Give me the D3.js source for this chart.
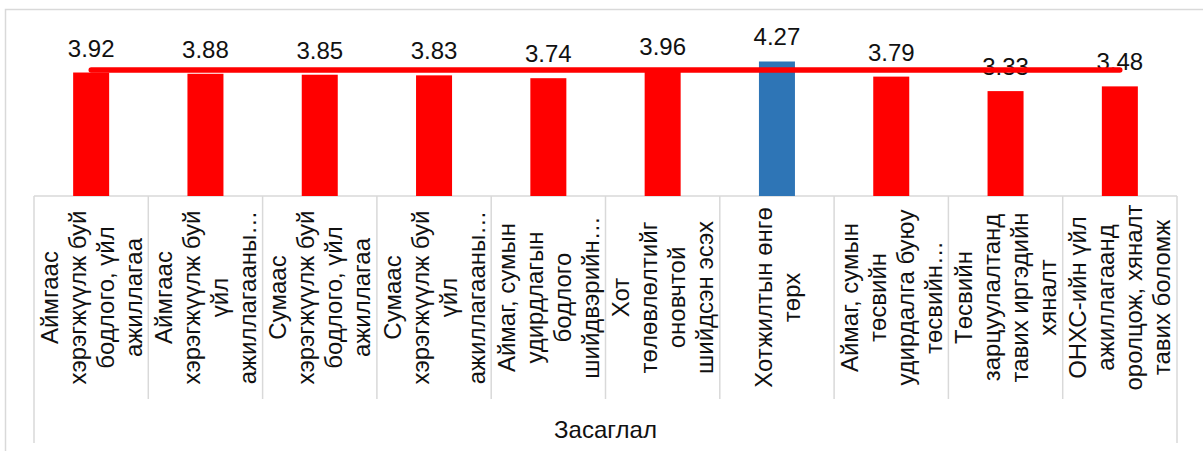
<!DOCTYPE html>
<html>
<head>
<meta charset="utf-8">
<script src="https://cdn.jsdelivr.net/npm/d3@7"></script>
<style>
  html, body { margin: 0; padding: 0; background: #fff; }
  svg { display: block; font-family: "Liberation Sans", Arial, sans-serif; }
</style>
</head>
<body>
<svg id="chart" width="1203" height="451"></svg>
<script>
// Category tick labels, one array of wrapped lines per category
const tickLabels = [
  ["Аймгаас", "хэрэгжүүлж буй", "бодлого, үйл", "ажиллагаа"],
  ["Аймгаас", "хэрэгжүүлж буй", "үйл", "ажиллагааны…"],
  ["Сумаас", "хэрэгжүүлж буй", "бодлого, үйл", "ажиллагаа"],
  ["Сумаас", "хэрэгжүүлж буй", "үйл", "ажиллагааны…"],
  ["Аймаг, сумын", "удирдлагын", "бодлого", "шийдвэрийн…"],
  ["Хот", "төлөвлөлтийг", "оновчтой", "шийдсэн эсэх"],
  ["Хотжилтын өнгө", "төрх"],
  ["Аймаг, сумын", "төсвийн", "удирдалга буюу", "төсвийн…"],
  ["Төсвийн", "зарцуулалтанд", "тавих иргэдийн", "хяналт"],
  ["ОНХС-ийн үйл", "ажиллагаанд", "оролцож, хяналт", "тавих боломж"]
];
const categories = tickLabels.map(d => d.join(" "));
const scores = [3.92, 3.88, 3.85, 3.83, 3.74, 3.96, 4.27, 3.79, 3.33, 3.48];
const referenceLine = [4, 4, 4, 4, 4, 4, 4, 4, 4, 4];
const groupLabel = "Засаглал";
const highlighted = "Хотжилтын өнгө төрх";

const svg = d3.select("#chart");
const grid = "#d9d9d9";

// outer frame
svg.append("rect")
  .attr("x", 5.5).attr("y", 9.5)
  .attr("width", 1400).attr("height", 600)
  .attr("fill", "none").attr("stroke", grid).attr("stroke-width", 1.5);

const x = d3.scaleBand().domain(categories).range([34, 1177]).padding(0);
const y = d3.scaleLinear().domain([0, 5]).range([196, 38.5]);
const barW = x.bandwidth() * 0.315;

// category axis line
svg.append("line")
  .attr("x1", x.range()[0]).attr("x2", x.range()[1])
  .attr("y1", y(0)).attr("y2", y(0))
  .attr("stroke", grid).attr("stroke-width", 1.5);

// category separators: inner ones stop above the group label, outer ones run lower
const edges = categories.map(c => x(c)).concat([x.range()[1]]);
svg.selectAll("line.sep").data(edges).join("line")
  .attr("class", "sep")
  .attr("x1", d => d).attr("x2", d => d)
  .attr("y1", y(0))
  .attr("y2", (d, i) => (i === 0 || i === edges.length - 1) ? 443 : 399)
  .attr("stroke", grid).attr("stroke-width", 1.5);

// bars
svg.selectAll("rect.bar").data(scores).join("rect")
  .attr("class", "bar")
  .attr("x", (d, i) => x(categories[i]) + (x.bandwidth() - barW) / 2)
  .attr("width", barW)
  .attr("y", d => y(d))
  .attr("height", d => y(0) - y(d))
  .attr("fill", (d, i) => categories[i] === highlighted ? "#2E75B6" : "#FF0000");

// value labels
svg.selectAll("text.val").data(scores).join("text")
  .attr("class", "val")
  .attr("x", (d, i) => x(categories[i]) + x.bandwidth() / 2)
  .attr("y", d => y(d) - 16)
  .attr("text-anchor", "middle")
  .attr("font-size", 24)
  .attr("fill", "#111")
  .text(d => d.toFixed(2));

// reference line drawn over the bars
const line = d3.line()
  .x((d, i) => x(categories[i]) + x.bandwidth() / 2)
  .y(d => y(d));
svg.append("path")
  .datum(referenceLine)
  .attr("d", line)
  .attr("fill", "none")
  .attr("stroke", "#FF0000")
  .attr("stroke-width", 5.3)
  .attr("stroke-linecap", "round")
  .attr("stroke-linejoin", "round");

// rotated, wrapped category labels
const labelMid = (y(0) + 399) / 2;
const lineGap = 28;
const lbl = svg.selectAll("g.cat").data(tickLabels).join("g")
  .attr("class", "cat")
  .attr("transform", (d, i) => `translate(${x(categories[i]) + x.bandwidth() / 2},${labelMid}) rotate(-90)`);
lbl.each(function(lines) {
  const g = d3.select(this);
  const n = lines.length;
  lines.forEach((t, j) => {
    g.append("text")
      .attr("x", 0)
      .attr("y", (j - (n - 1) / 2) * lineGap)
      .attr("dy", "0.36em")
      .attr("text-anchor", "middle")
      .attr("font-size", 24)
      .attr("fill", "#111")
      .text(t);
  });
});

// group label
svg.append("text")
  .attr("x", (x.range()[0] + x.range()[1]) / 2)
  .attr("y", 438)
  .attr("text-anchor", "middle")
  .attr("font-size", 24)
  .attr("fill", "#111")
  .text(groupLabel);
</script>
</body>
</html>
